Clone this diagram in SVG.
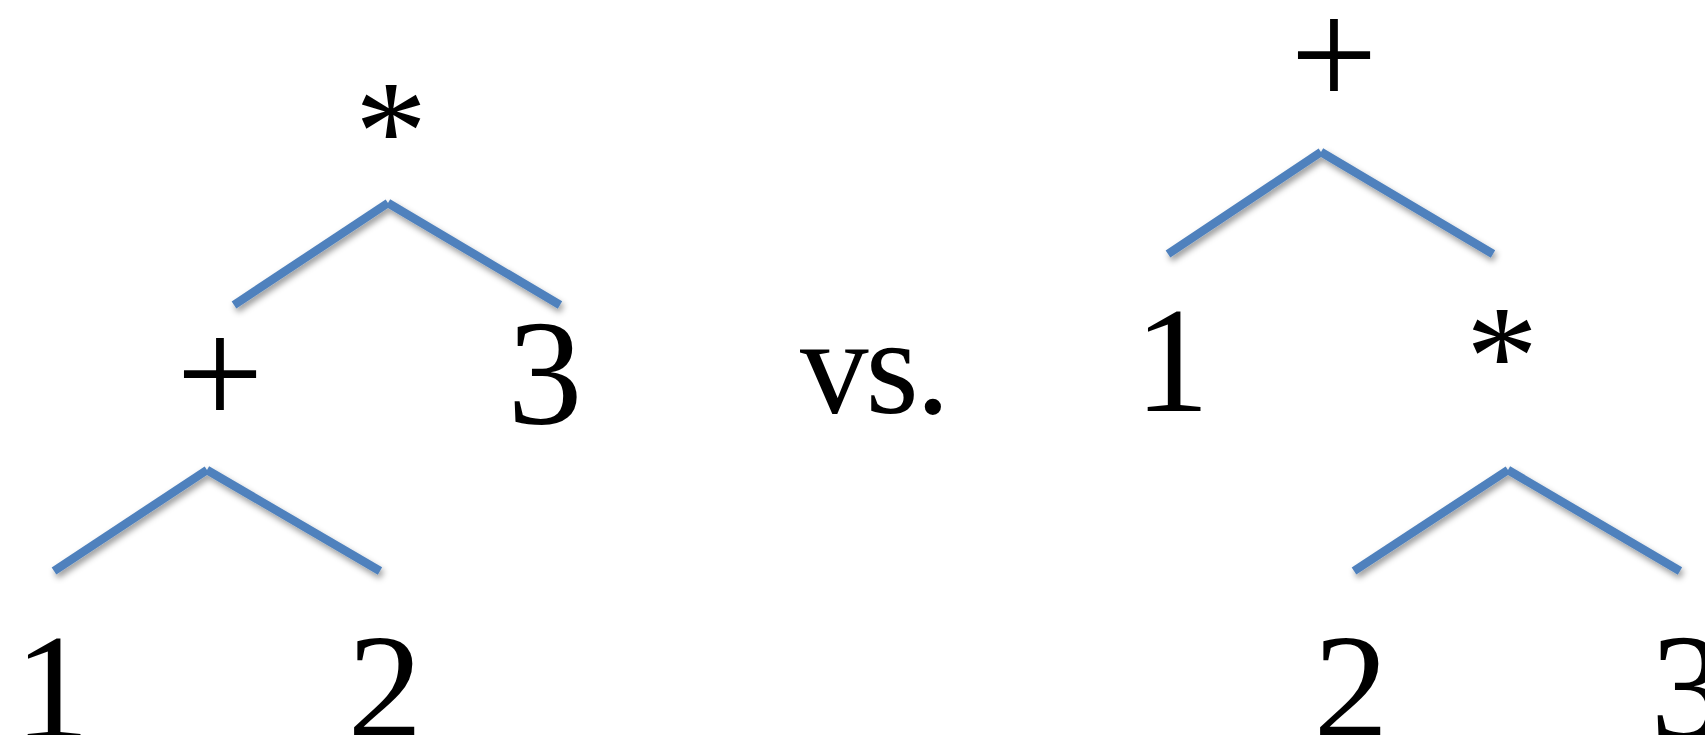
<svg xmlns="http://www.w3.org/2000/svg" width="1705" height="735" viewBox="0 0 1705 735">
  <style>
    .lbl { font-family: "Liberation Serif", "Times New Roman", serif; font-size: 150px; fill: #000; text-anchor: middle; }
    .op { font-family: "Liberation Serif", "Times New Roman", serif; font-size: 155px; fill: #000; text-anchor: middle; }
    .star { font-family: "Liberation Serif", "Times New Roman", serif; font-size: 145px; fill: #000; text-anchor: middle; }
    .vs { font-family: "Liberation Serif", "Times New Roman", serif; font-size: 137px; letter-spacing: -3px; fill: #000; }
    .edge { stroke: #4f81bd; stroke-width: 8.5; stroke-linecap: butt; fill: none; }
  </style>
  <defs>
    <filter id="shadow" x="-20%" y="-20%" width="140%" height="160%">
      <feDropShadow dx="2" dy="4" stdDeviation="3" flood-color="#000" flood-opacity="0.4"/>
    </filter>
  </defs>
  <rect width="1705" height="735" fill="#fff"/>

  <g id="connectors" filter="url(#shadow)">
    <line class="edge" x1="388" y1="203" x2="234" y2="305"/>
    <line class="edge" x1="388" y1="203" x2="560" y2="305"/>
    <line class="edge" x1="207" y1="470" x2="54" y2="571"/>
    <line class="edge" x1="207" y1="470" x2="380" y2="571"/>
    <line class="edge" x1="1321" y1="152" x2="1168" y2="254"/>
    <line class="edge" x1="1321" y1="152" x2="1493" y2="254"/>
    <line class="edge" x1="1508" y1="470" x2="1354" y2="571"/>
    <line class="edge" x1="1508" y1="470" x2="1680" y2="571"/>
  </g>

  <g id="left-times"><text class="star" x="391" y="180">*</text></g>
  <g id="left-plus"><text class="op" x="220" y="426">+</text></g>
  <g id="left-3"><text class="lbl" x="545" y="424">3</text></g>
  <g id="left-1"><text class="lbl" x="52" y="738">1</text></g>
  <g id="left-2"><text class="lbl" x="385" y="738">2</text></g>

  <g id="vs"><text class="vs" x="800" y="413">vs.</text></g>

  <g id="right-plus"><text class="op" x="1334" y="107">+</text></g>
  <g id="right-1"><text class="lbl" x="1172" y="411">1</text></g>
  <g id="right-times"><text class="star" x="1502" y="405">*</text></g>
  <g id="right-2"><text class="lbl" x="1351" y="738">2</text></g>
  <g id="right-3"><text class="lbl" x="1688" y="738">3</text></g>
</svg>
